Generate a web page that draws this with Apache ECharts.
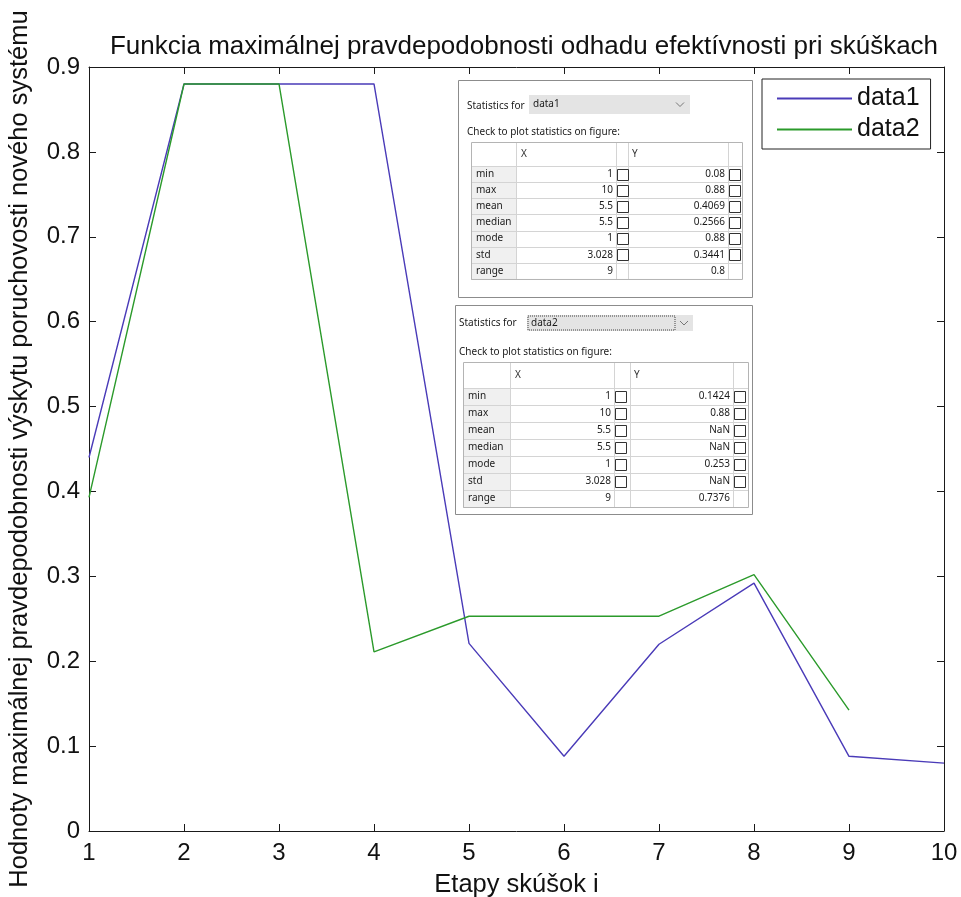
<!DOCTYPE html>
<html>
<head>
<meta charset="utf-8">
<script src="https://cdn.jsdelivr.net/npm/echarts@6/dist/echarts.min.js"></script>
<style>
html, body { margin: 0; padding: 0; background: #fff; }
#chart { width: 961px; height: 897px; }
</style>
</head>
<body>
<div id="chart"></div>
<script>
// data
var stages = [1, 2, 3, 4, 5, 6, 7, 8, 9, 10];
var data1 = [0.44, 0.88, 0.88, 0.88, 0.221, 0.088, 0.22, 0.292, 0.088, 0.08];
var data2 = [0.393, 0.88, 0.88, 0.211, 0.253, 0.253, 0.253, 0.302, 0.1424, null];

// statistics panels text
var statNames = ['min', 'max', 'mean', 'median', 'mode', 'std', 'range'];
var statsX = ['1', '10', '5.5', '5.5', '1', '3.028', '9'];
var stats1Y = ['0.08', '0.88', '0.4069', '0.2566', '0.88', '0.3441', '0.8'];
var stats2Y = ['0.1424', '0.88', 'NaN', 'NaN', '0.253', 'NaN', '0.7376'];

var FONT = '"Liberation Sans", Arial, sans-serif';
var UIFONT = '"Noto Sans", sans-serif';

function pairs(ys) {
    return stages.map(function (x, i) { return [x, ys[i] == null ? '-' : ys[i]]; });
}

/*one "Statistics for" box*/
function statsPanel(p, name, ys) {
    var els = [];
    var b = p.box, t = p.table, c = t.cols;
    els.push({type: 'rect', shape: {x: b[0], y: b[1], width: b[2], height: b[3]},
        style: {fill: '#fff', stroke: '#8c8c8c', lineWidth: 1}});
    els.push({type: 'text', x: p.title[0], y: p.title[1],
        style: {text: 'Statistics for', fill: '#1a1a1a', fontSize: p.fs, fontFamily: UIFONT, verticalAlign: 'middle'}});
    var d = p.drop;
    els.push({type: 'rect', shape: {x: d[0], y: d[1], width: d[2], height: d[3]},
        style: {fill: '#e4e4e4', stroke: null}});
    if (p.focus) {
        els.push({type: 'rect', shape: {x: d[0] + 1, y: d[1] + 1, width: p.focus, height: d[3] - 2},
            style: {fill: null, stroke: '#444', lineWidth: 1, lineDash: [1, 1]}});
    }
    els.push({type: 'text', x: d[0] + 4, y: d[1] + d[3] / 2,
        style: {text: name, fill: '#1a1a1a', fontSize: p.fs, fontFamily: UIFONT, verticalAlign: 'middle'}});
    var cx = p.chev, cy = d[1] + d[3] / 2;
    els.push({type: 'polyline', shape: {points: [[cx - 4, cy - 2], [cx, cy + 2], [cx + 4, cy - 2]]},
        style: {stroke: '#777', fill: null, lineWidth: 1}});
    els.push({type: 'text', x: p.check[0], y: p.check[1],
        style: {text: 'Check to plot statistics on figure:', fill: '#1a1a1a', fontSize: p.fs, fontFamily: UIFONT, verticalAlign: 'middle'}});

    var top = t.y, bodyTop = t.y + t.header, w = c[5] - c[0];
    var bottom = bodyTop + t.rowH * statNames.length;
    // row header column
    els.push({type: 'rect', shape: {x: c[0], y: bodyTop, width: c[1] - c[0], height: bottom - bodyTop},
        style: {fill: '#f0f0f0', stroke: null}});
    // grid lines
    for (var r = 0; r <= statNames.length; r++) {
        var yy = Math.round(bodyTop + r * t.rowH) + 0.5;
        els.push({type: 'line', shape: {x1: c[0], y1: yy, x2: c[5], y2: yy}, style: {stroke: '#d4d4d4', lineWidth: 1}});
    }
    for (var k = 1; k < 5; k++) {
        els.push({type: 'line', shape: {x1: c[k] + 0.5, y1: top, x2: c[k] + 0.5, y2: bottom}, style: {stroke: '#d4d4d4', lineWidth: 1}});
    }
    els.push({type: 'rect', shape: {x: c[0] + 0.5, y: top + 0.5, width: w, height: bottom - top},
        style: {fill: null, stroke: '#b4b4b4', lineWidth: 1}});
    els.push({type: 'text', x: c[1] + 5, y: top + t.header / 2,
        style: {text: 'X', fill: '#333', fontSize: p.fs, fontFamily: UIFONT, verticalAlign: 'middle'}});
    els.push({type: 'text', x: c[3] + 4, y: top + t.header / 2,
        style: {text: 'Y', fill: '#333', fontSize: p.fs, fontFamily: UIFONT, verticalAlign: 'middle'}});

    for (var i = 0; i < statNames.length; i++) {
        var my = bodyTop + (i + 0.5) * t.rowH;
        els.push({type: 'text', x: c[0] + 5, y: my,
            style: {text: statNames[i], fill: '#1a1a1a', fontSize: p.fs, fontFamily: UIFONT, verticalAlign: 'middle'}});
        els.push({type: 'text', x: c[2] - 3, y: my,
            style: {text: statsX[i], fill: '#1a1a1a', fontSize: p.fs, fontFamily: UIFONT, align: 'right', verticalAlign: 'middle'}});
        els.push({type: 'text', x: c[4] - 3, y: my,
            style: {text: ys[i], fill: '#1a1a1a', fontSize: p.fs, fontFamily: UIFONT, align: 'right', verticalAlign: 'middle'}});
        if (statNames[i] != 'range') {
            var bs = 11;
            els.push({type: 'rect', shape: {x: c[2] + 1.5, y: Math.round(my - bs / 2) + 0.5, width: bs, height: bs},
                style: {fill: '#fff', stroke: '#333', lineWidth: 1}});
            els.push({type: 'rect', shape: {x: c[4] + 1.5, y: Math.round(my - bs / 2) + 0.5, width: bs, height: bs},
                style: {fill: '#fff', stroke: '#333', lineWidth: 1}});
        }
    }
    return els;
}

var panel1 = {box: [458.5, 80.5, 294, 217], title: [467, 106], drop: [529, 95, 161, 19], chev: 680,
    check: [467, 132], fs: 10, table: {y: 142, header: 24, rowH: 16.14, cols: [471, 516, 616, 628, 728, 742]}};
var panel2 = {box: [455.5, 305.5, 297, 209], title: [459, 323], drop: [527, 315, 166, 16], chev: 684, focus: 147,
    check: [459, 352], fs: 10, table: {y: 362, header: 26, rowH: 17, cols: [463, 510, 614, 630, 733, 748]}};

var graphics = statsPanel(panel1, 'data1', stats1Y).concat(statsPanel(panel2, 'data2', stats2Y));
graphics.forEach(function (g) { g.z = 100; });

var axisColor = '#1a1a1a';
var chart = echarts.init(document.getElementById('chart'));
var option = {
    backgroundColor: '#fff',
    animation: false,
    title: {
        text: 'Funkcia maximálnej pravdepodobnosti odhadu efektívnosti pri skúškach',
        left: 519,
        top: 29,
        textAlign: 'center',
        textStyle: {color: '#111', fontWeight: 'normal', fontSize: 26, fontFamily: FONT}
    },
    color: ['#4a3bb8', '#2b9a2b'],
    legend: {
        orient: 'vertical',
        left: 762,
        top: 79,
        padding: [7, 11, 7, 15],
        itemGap: 6,
        itemWidth: 75,
        itemHeight: 2,
        icon: 'rect',
        backgroundColor: '#fff',
        borderColor: '#222',
        borderWidth: 1,
        borderRadius: 0,
        selectedMode: false,
        data: ['data1', 'data2'],
        textStyle: {color: '#111', fontSize: 25, fontFamily: FONT}
    },
    grid: {left: 89, right: 17, top: 67, bottom: 66, outerBoundsMode: 'none', containLabel: false},
    xAxis: [{
        type: 'value', min: 1, max: 10, interval: 1, position: 'bottom',
        axisLine: {show: true, onZero: false, lineStyle: {color: axisColor, width: 1}},
        axisTick: {show: true, inside: true, length: 7, lineStyle: {color: axisColor}},
        axisLabel: {color: '#111', fontSize: 24, margin: 10, fontFamily: FONT},
        splitLine: {show: false},
        name: 'Etapy skúšok i', nameLocation: 'middle', nameGap: 41,
        nameTextStyle: {color: '#111', fontSize: 25.5, fontFamily: FONT}
    }, {
        type: 'value', min: 1, max: 10, interval: 1, position: 'top',
        axisLine: {show: true, onZero: false, lineStyle: {color: axisColor, width: 1}},
        axisTick: {show: true, inside: true, length: 7, lineStyle: {color: axisColor}},
        axisLabel: {show: false}, splitLine: {show: false}
    }],
    yAxis: [{
        type: 'value', min: 0, max: 0.9, interval: 0.1, position: 'left',
        axisLine: {show: true, onZero: false, lineStyle: {color: axisColor, width: 1}},
        axisTick: {show: true, inside: true, length: 7, lineStyle: {color: axisColor}},
        axisLabel: {color: '#111', fontSize: 24, margin: 9, fontFamily: FONT},
        splitLine: {show: false},
        name: 'Hodnoty maximálnej pravdepodobnosti výskytu poruchovosti nového systému',
        nameLocation: 'middle', nameGap: 56, nameRotate: 90,
        nameTextStyle: {color: '#111', fontSize: 25.5, fontFamily: FONT}
    }, {
        type: 'value', min: 0, max: 0.9, interval: 0.1, position: 'right',
        axisLine: {show: true, onZero: false, lineStyle: {color: axisColor, width: 1}},
        axisTick: {show: true, inside: true, length: 7, lineStyle: {color: axisColor}},
        axisLabel: {show: false}, splitLine: {show: false}
    }],
    series: [{
        name: 'data1', type: 'line', symbol: 'none', showSymbol: false,
        lineStyle: {width: 1.4}, data: pairs(data1)
    }, {
        name: 'data2', type: 'line', symbol: 'none', showSymbol: false,
        lineStyle: {width: 1.4}, data: pairs(data2)
    }],
    graphic: graphics
};
chart.setOption(option);
</script>
</body>
</html>
